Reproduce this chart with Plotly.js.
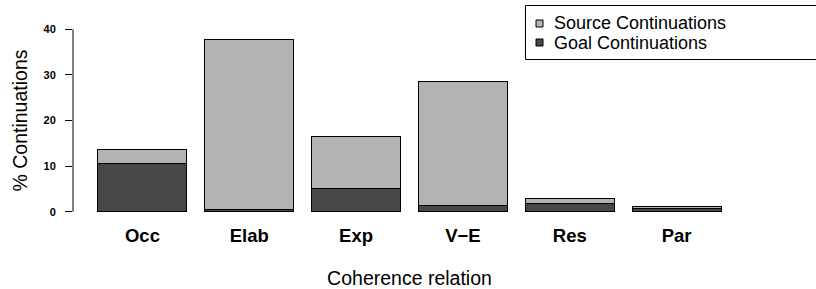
<!DOCTYPE html>
<html>
<head>
<meta charset="utf-8">
<script src="https://cdn.plot.ly/plotly-3.0.1.min.js"></script>
<style>html,body{margin:0;padding:0;background:#fff;}#chart{width:816px;height:289px;}</style>
</head>
<body>
<div id="chart"></div>
<script>
// Data (% of continuations)
const categories = ["Occ", "Elab", "Exp", "V\u2212E", "Res", "Par"];
const goalValues = [10.5, 0.4, 5.0, 1.4, 1.75, 0.65];
const sourceValues = [3.2, 37.3, 11.5, 27.2, 1.05, 0.5];
const seriesNames = ["Source Continuations", "Goal Continuations"];
const yTicks = [0, 10, 20, 30, 40];

const FONT = "Liberation Sans, Arial, Helvetica, sans-serif";
const LIGHT = "#b3b3b3";
const DARK = "#474747";

// margins (px) and helper to convert pixel positions to paper coords for the legend box
const M = {l: 73, r: 70, t: 22, b: 70};
const W = 816, H = 289;
const pw = W - M.l - M.r, ph = H - M.t - M.b;
const px = x => (x - M.l) / pw;
const py = y => (H - M.b - y) / ph;

const traces = [
  {type: "bar", x: categories, y: goalValues, name: seriesNames[1],
   marker: {color: DARK, line: {color: "#000", width: 1}}, showlegend: false, hoverinfo: "y"},
  {type: "bar", x: categories, y: sourceValues, name: seriesNames[0],
   marker: {color: LIGHT, line: {color: "#000", width: 1}}, showlegend: false, hoverinfo: "y"}
];

const legendRows = [
  {name: seriesNames[0], color: LIGHT, y: 23.5},
  {name: seriesNames[1], color: DARK, y: 42.5}
];

const shapes = [
  // y axis line from 0 to 40 (R style)
  {type: "line", xref: "paper", yref: "y", x0: 0, x1: 0, y0: yTicks[0], y1: yTicks[yTicks.length - 1],
   line: {color: "#000", width: 1}},
  // legend box
  {type: "rect", xref: "paper", yref: "paper", x0: px(525.5), x1: px(840), y0: py(5.5), y1: py(59.5),
   line: {color: "#000", width: 1}, fillcolor: "rgba(0,0,0,0)"}
];
const annotations = [];
legendRows.forEach(r => {
  shapes.push({type: "rect", xref: "paper", yref: "paper",
    x0: px(536), x1: px(543), y0: py(r.y - 3.5), y1: py(r.y + 3.5),
    line: {color: "#000", width: 1}, fillcolor: r.color});
  annotations.push({xref: "paper", yref: "paper", x: px(553), y: py(r.y), xanchor: "left", yanchor: "middle",
    text: r.name, showarrow: false, borderpad: 0, font: {family: FONT, size: 18, color: "#000"}});
});

const layout = {
  width: W, height: H,
  margin: M,
  paper_bgcolor: "#fff", plot_bgcolor: "#fff",
  barmode: "stack", bargap: 0.1667,
  showlegend: false,
  font: {family: FONT, color: "#000"},
  xaxis: {
    type: "category", range: [-0.65, 5.65], showgrid: false, zeroline: false, showline: false,
    ticks: "", tickfont: {family: FONT, size: 18.5, weight: "bold", color: "#000"},
    ticklabelstandoff: 3,
    title: {text: "Coherence relation", font: {family: FONT, size: 19.5, color: "#000"}, standoff: 27},
    automargin: false
  },
  yaxis: {
    range: [-1.6, 41.6], showgrid: false, zeroline: false, showline: false,
    tickvals: yTicks, ticktext: yTicks.map(String),
    ticks: "outside", ticklen: 7, tickwidth: 1, tickcolor: "#000",
    tickfont: {family: FONT, size: 11, weight: "bold", color: "#000"},
    ticklabelstandoff: 7,
    title: {text: "% Continuations", font: {family: FONT, size: 19.5, color: "#000"}, standoff: 10},
    automargin: false
  },
  shapes: shapes,
  annotations: annotations
};

Plotly.newPlot("chart", traces, layout, {displayModeBar: false, staticPlot: true});
</script>
</body>
</html>
